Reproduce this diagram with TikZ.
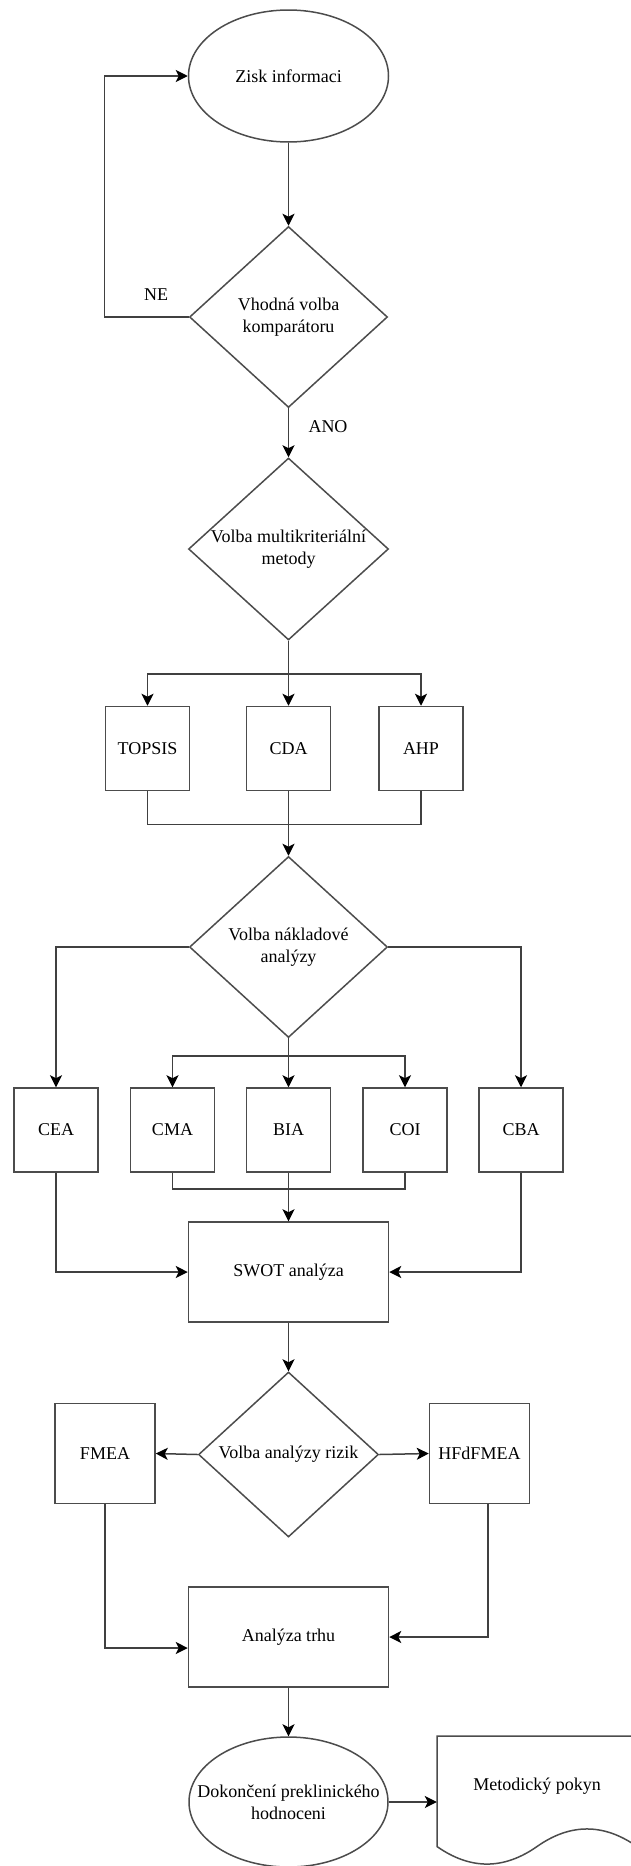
\documentclass[tikz,border=0pt]{standalone}
\usepackage{fontspec}
\setmainfont{Liberation Serif}
\usetikzlibrary{shapes.geometric,arrows.meta,calc}
\begin{document}
\begin{tikzpicture}[x=1pt,y=-1pt, font=\fontsize{18pt}{22pt}\selectfont,
  shp/.style={draw=black!70, line width=1.5pt},
  boxn/.style={shp, rectangle, minimum width=84pt, minimum height=84pt, inner sep=0pt},
  sqbox/.style={shp, rectangle, minimum width=100pt, minimum height=100pt, inner sep=0pt},
  bigbox/.style={shp, rectangle, minimum width=200pt, minimum height=100pt, inner sep=0pt},
  dia/.style={shp, diamond, inner sep=0pt},
  ell/.style={shp, ellipse, inner sep=0pt},
  conn/.style={draw=black!75, line width=1.5pt},
  arr/.style={conn, -{Stealth[length=12pt,width=12pt,inset=3pt,color=black]}},
  lbl/.style={inner sep=1pt}
]
\useasboundingbox (0,0) rectangle (630,1866);

% nodes
\node[ell, minimum width=200pt, minimum height=132pt] (zisk) at (288.5,76) {Zisk informaci};
\node[dia, minimum width=198pt, minimum height=181pt,
      label={[align=center]center:Vhodná volba\\komparátoru}] (d1) at (288.5,317) {};
\node[dia, minimum width=200pt, minimum height=182pt,
      label={[align=center]center:Volba multikriteriální\\metody}] (d2) at (288.5,549) {};

\node[boxn] (topsis) at (147.5,748.5) {TOPSIS};
\node[boxn] (cda) at (288.5,748.5) {CDA};
\node[boxn] (ahp) at (421,748.5) {AHP};

\node[dia, minimum width=198pt, minimum height=181pt,
      label={[align=center]center:Volba nákladové\\analýzy}] (d3) at (288.5,947) {};

\node[boxn] (cea) at (56,1130) {CEA};
\node[boxn] (cma) at (172.5,1130) {CMA};
\node[boxn] (bia) at (288.5,1130) {BIA};
\node[boxn] (coi) at (405,1130) {COI};
\node[boxn] (cba) at (521,1130) {CBA};

\node[bigbox] (swot) at (288.5,1272) {SWOT analýza};

\node[dia, minimum width=180pt, minimum height=165pt,
      label={center:Volba analýzy rizik}] (d4) at (288.5,1454.5) {};
\node[sqbox] (fmea) at (105,1453.5) {FMEA};
\node[sqbox] (hf) at (479.5,1453.5) {HFdFMEA};

\node[bigbox] (an) at (288.5,1637) {Analýza trhu};

\node[ell, minimum width=199pt, minimum height=130pt,
      label={[align=center]center:Dokončení preklinického\\hodnoceni}] (dok) at (288.5,1802) {};

\node[rectangle, minimum width=200pt, minimum height=130pt, inner sep=0pt] (doc) at (537,1801) {};
\draw[shp] (437,1736) -- (637,1736) -- (637,1846.5)
  .. controls (603.7,1823.1) and (570.3,1823.1) .. (537,1846.5)
  .. controls (503.7,1869.9) and (470.3,1869.9) .. (437,1846.5) -- cycle;
\node (doctext) at (537,1786) {Metodický pokyn};

% connectors
\draw[arr] (zisk.south) -- (d1.north);
\draw[arr] (d1.west) -- ++(-84.5,0) |- (zisk.west);
\node[lbl] (ne) at (156,295) {NE};
\draw[arr] (d1.south) -- (d2.north);
\node[lbl] (ano) at (328,427) {ANO};

\draw[arr] (d2.south) -- (cda.north);
\draw[arr] (d2.south) -- ++(0,33) -| (topsis.north);
\draw[arr] (d2.south) -- ++(0,33) -| (ahp.north);
\draw[conn] (topsis.south) -- ++(0,33) -| (ahp.south);
\draw[arr] (cda.south) -- (d3.north);

\draw[arr] (d3.west) -| (cea.north);
\draw[arr] (d3.east) -| (cba.north);
\draw[arr] (d3.south) -- (bia.north);
\draw[arr] (d3.south) -- ++(0,17.5) -| (cma.north);
\draw[arr] (d3.south) -- ++(0,17.5) -| (coi.north);
\draw[conn] (cma.south) -- ++(0,16) -| (coi.south);
\draw[arr] (bia.south) -- (swot.north);
\draw[arr] (cea.south) |- (swot.west);
\draw[arr] (cba.south) |- (swot.east);

\draw[arr] (swot.south) -- (d4.north);
\draw[arr] (d4.west) -- (fmea.east);
\draw[arr] (d4.east) -- (hf.west);
\draw[arr] (fmea.south) |- ([yshift=-11pt]an.west);
\draw[arr] ([xshift=8.5pt]hf.south) |- (an.east);
\draw[arr] (an.south) -- (dok.north);
\draw[arr] (dok.east) -- (dok.east -| doc.west);
\end{tikzpicture}
\end{document}
